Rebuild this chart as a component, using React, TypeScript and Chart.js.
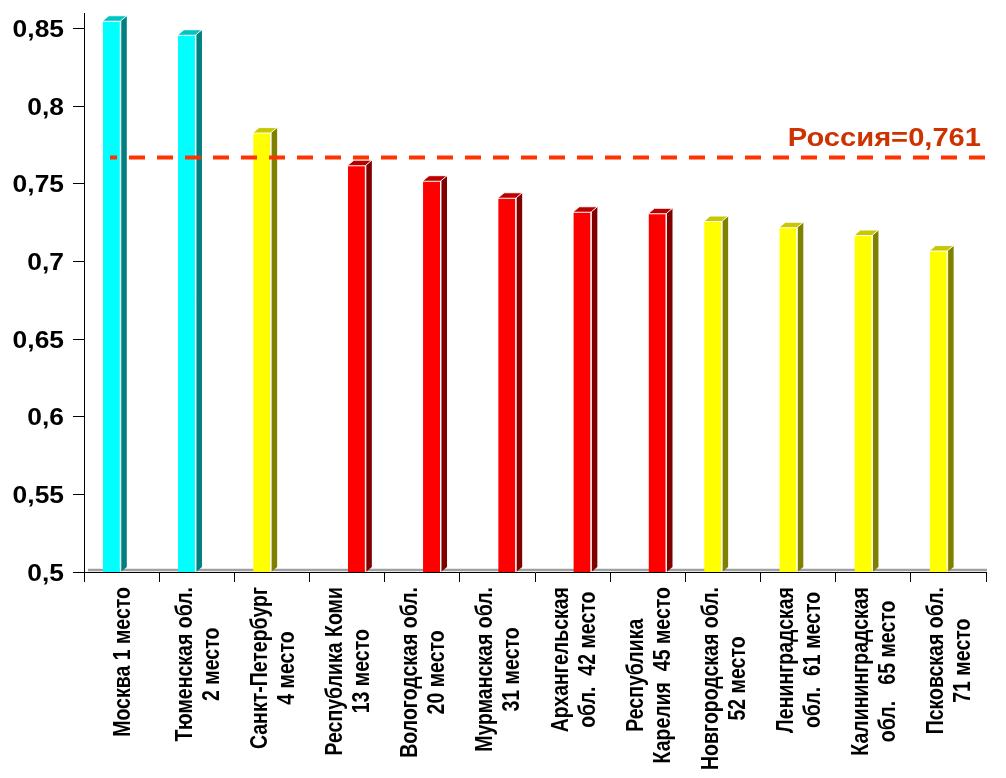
import React, { useEffect, useRef } from "react";
import { Chart, registerables } from "chart.js";

Chart.register(...registerables);

// ---------- data ----------
const regionLabels: string[][] = [
  ["Москва 1 место"],
  ["Тюменская обл.", "2 место"],
  ["Санкт-Петербург", "4 место"],
  ["Республика Коми", "13 место"],
  ["Вологодская обл.", "20 место"],
  ["Мурманская обл.", "31 место"],
  ["Архангельская", "обл.  42 место"],
  ["Республика", "Карелия  45 место"],
  ["Новгородская обл.", "52 место"],
  ["Ленинградская", "обл.  61 место"],
  ["Калининградская", "обл.   65 место"],
  ["Псковская обл.", "71 место"],
];

const indexValues: number[] = [
  0.855, 0.846, 0.783, 0.762, 0.752, 0.741, 0.732, 0.731, 0.726, 0.722, 0.717, 0.707,
];

// colour group of each region
const regionGroups: string[] = [
  "cyan", "cyan", "yellow", "red", "red", "red", "red", "red", "yellow", "yellow", "yellow", "yellow",
];

const russiaLabel = "Россия=0,761";
const russiaLineLevel = 0.767;

const yMin = 0.5;
const yMax = 0.86;
const yStep = 0.05;

// ---------- styles ----------
const FRONT: Record<string, string> = { cyan: "#00FFFF", yellow: "#FFFF00", red: "#FF0000" };
const SIDE: Record<string, string> = { cyan: "#008080", yellow: "#808000", red: "#800000" };
const TOPC: Record<string, string> = { cyan: "#00C4C4", yellow: "#C8C800", red: "#B80000" };

const FONT = "'Liberation Sans', Arial, sans-serif";
const DX = 6;
const DY = 5;

const seriesA = indexValues.map((v, i) => (regionGroups[i] !== "red" ? v : null));
const seriesB = indexValues.map((v, i) => (regionGroups[i] === "red" ? v : null));

const fmt = (v: number) => (Math.round(v * 100) / 100).toString().replace(".", ",");

const threeD = {
  id: "threeD",
  beforeDatasetsDraw(chart: any) {
    const { ctx, chartArea } = chart;
    ctx.save();
    ctx.strokeStyle = "#A0A0A0";
    ctx.lineWidth = 2.5;
    ctx.beginPath();
    ctx.moveTo(chartArea.left + 4, chartArea.bottom - 2);
    ctx.lineTo(chartArea.right + 1, chartArea.bottom - 2);
    ctx.stroke();
    ctx.restore();
  },
  afterDatasetsDraw(chart: any) {
    const { ctx, chartArea } = chart;
    ctx.save();
    chart.data.datasets.forEach((ds: any, d: number) => {
      const meta = chart.getDatasetMeta(d);
      meta.data.forEach((el: any, i: number) => {
        if (ds.data[i] == null) return;
        const { x, y, base, width } = el.getProps(["x", "y", "base", "width"], true);
        const bottom = Math.min(base, chartArea.bottom);
        const left = x - width / 2;
        const right = x + width / 2;
        const g = regionGroups[i];
        // side face
        ctx.fillStyle = SIDE[g];
        ctx.beginPath();
        ctx.moveTo(right, y);
        ctx.lineTo(right + DX, y - DY);
        ctx.lineTo(right + DX, bottom - DY);
        ctx.lineTo(right, bottom);
        ctx.closePath();
        ctx.fill();
        // top face
        ctx.fillStyle = TOPC[g];
        ctx.beginPath();
        ctx.moveTo(left, y);
        ctx.lineTo(left + DX, y - DY);
        ctx.lineTo(right + DX, y - DY);
        ctx.lineTo(right, y);
        ctx.closePath();
        ctx.fill();
        ctx.strokeStyle = "rgba(255,255,255,0.9)";
        ctx.lineWidth = 1;
        ctx.beginPath();
        ctx.moveTo(left, y);
        ctx.lineTo(left + DX, y - DY);
        ctx.lineTo(right + DX, y - DY);
        ctx.lineTo(right, y);
        ctx.lineTo(right, bottom);
        ctx.stroke();
      });
    });

    // Russia dashed line
    const yScale = chart.scales.y;
    const ly = yScale.getPixelForValue(russiaLineLevel);
    ctx.strokeStyle = "#FF3300";
    ctx.lineWidth = 4;
    ctx.setLineDash([16, 12]);
    ctx.lineDashOffset = 9;
    ctx.beginPath();
    ctx.moveTo(chartArea.left + 26, ly);
    ctx.lineTo(chartArea.right, ly);
    ctx.stroke();
    ctx.setLineDash([]);

    // Russia label
    ctx.fillStyle = "#CC3300";
    ctx.font = `bold 26px ${FONT}`;
    ctx.textAlign = "right";
    ctx.textBaseline = "alphabetic";
    ctx.translate(chartArea.right - 5, ly - 11);
    ctx.scale(1.12, 1);
    ctx.fillText(russiaLabel, 0, 0);
    ctx.restore();
  },
  afterDraw(chart: any) {
    const { ctx, chartArea } = chart;
    const xScale = chart.scales.x;
    const yScale = chart.scales.y;
    ctx.save();
    ctx.fillStyle = "#000";
    // y tick labels
    ctx.font = `bold 24px ${FONT}`;
    ctx.textAlign = "right";
    ctx.textBaseline = "alphabetic";
    yScale.ticks.forEach((t: any) => {
      const y = yScale.getPixelForValue(t.value);
      ctx.save();
      ctx.translate(chartArea.left - 20, y + 8.5);
      ctx.scale(1.1, 1);
      ctx.fillText(fmt(t.value), 0, 0);
      ctx.restore();
    });
    // x labels (vertical)
    const size = 19.5;
    ctx.font = `bold ${size}px ${FONT}`;
    ctx.textAlign = "center";
    regionLabels.forEach((lines, i) => {
      const cx = xScale.getPixelForTick(i);
      const maxW = Math.max(...lines.map((l) => ctx.measureText(l).width));
      const cy = chartArea.bottom + 15 + maxW / 2;
      const n = lines.length;
      lines.forEach((line, j) => {
        const px = cx + (j - (n - 1) / 2) * 27;
        ctx.save();
        ctx.translate(px, cy);
        ctx.rotate(-Math.PI / 2);
        ctx.scale(1, 1.2);
        ctx.fillText(line, 0, size * 0.36);
        ctx.restore();
      });
    });
    ctx.restore();
  },
};

export default function App() {
  const ref = useRef<HTMLCanvasElement | null>(null);

  useEffect(() => {
    document.body.style.margin = "0";
    const canvas = ref.current;
    if (!canvas) return;
    const chart = new Chart(canvas, {
      type: "bar",
      data: {
        labels: regionLabels.map((l) => l.join(" ")),
        datasets: [
          {
            data: seriesA,
            backgroundColor: regionGroups.map((g) => FRONT[g]),
            borderColor: "#FFFFFF",
            borderWidth: { top: 1, right: 1, left: 0, bottom: 0 },
            borderSkipped: false,
            barPercentage: 0.92,
            categoryPercentage: 0.52,
          },
          {
            data: seriesB,
            backgroundColor: regionGroups.map((g) => FRONT[g]),
            borderColor: "#FFFFFF",
            borderWidth: { top: 1, right: 1, left: 0, bottom: 0 },
            borderSkipped: false,
            barPercentage: 0.92,
            categoryPercentage: 0.52,
          },
        ],
      },
      options: {
        responsive: false,
        animation: false,
        devicePixelRatio: 1,
        layout: { padding: { top: 13, right: 20, left: 0, bottom: 0 } },
        plugins: {
          legend: { display: false },
          tooltip: { enabled: false },
        },
        scales: {
          x: {
            grid: {
              display: true,
              offset: true,
              drawOnChartArea: false,
              drawTicks: true,
              tickLength: 10,
              color: "#000",
            },
            border: { display: true, color: "#000", width: 1 },
            ticks: { display: false },
            afterFit: (s: any) => {
              s.height = 206;
            },
          },
          y: {
            min: yMin,
            max: yMax,
            grid: {
              display: true,
              drawOnChartArea: false,
              drawTicks: true,
              tickLength: 11,
              color: "#000",
            },
            border: { display: true, color: "#000", width: 1 },
            ticks: { display: false, stepSize: yStep, includeBounds: false },
            afterFit: (s: any) => {
              s.width = 84;
            },
          },
        },
      },
      plugins: [threeD],
    } as any);
    return () => chart.destroy();
  }, []);

  return (
    <div style={{ width: 1006, height: 778 }}>
      <canvas ref={ref} width={1006} height={778} style={{ display: "block" }} />
    </div>
  );
}
